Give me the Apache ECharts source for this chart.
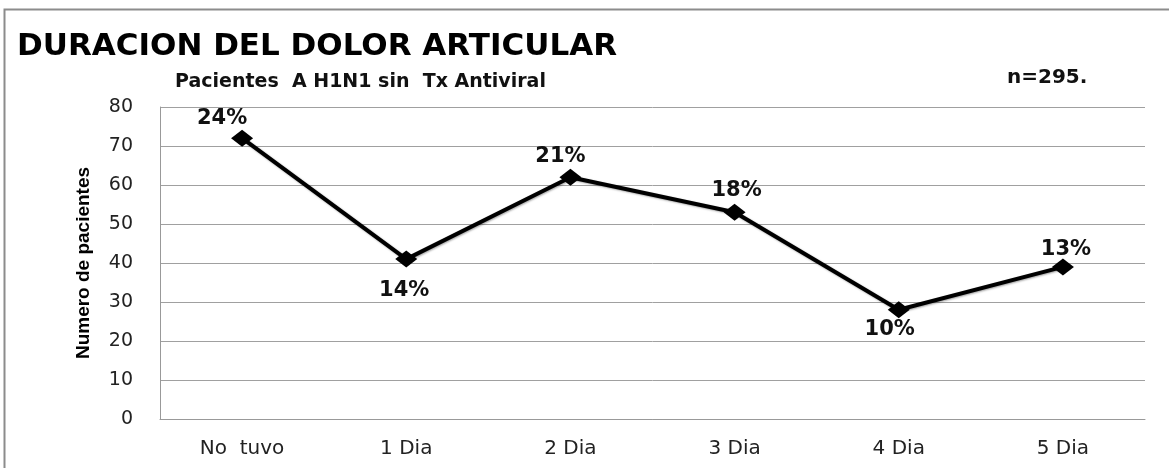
<!DOCTYPE html>
<html>
<head>
<meta charset="utf-8">
<script src="https://cdn.jsdelivr.net/npm/echarts@6/dist/echarts.min.js"></script>
<style>
  html, body { margin: 0; padding: 0; background: #fff; }
  #main { width: 1169px; height: 468px; }
</style>
</head>
<body>
<div id="main"></div>
<script>
// categories and values
var categories = ["No  tuvo", "1 Dia", "2 Dia", "3 Dia", "4 Dia", "5 Dia"];
var pacientes = [72, 41, 62, 53, 28, 39];
var porcentajes = ["24%", "14%", "21%", "18%", "10%", "13%"];
var yTicks = [0, 10, 20, 30, 40, 50, 60, 70, 80];

// where each percentage sits around its point (as in the original)
var labelShift = [[-20, -20], [-2, 31], [-10, -21], [2, -22], [-9, 20], [3, -17]];

var dejavu = "'DejaVu Sans', Verdana, sans-serif";

var myChart = echarts.init(document.getElementById("main"));

var seriesData = pacientes.map(function (v, i) {
  return {
    value: v,
    label: { position: "inside", offset: labelShift[i] }
  };
});

var option = {
  backgroundColor: "#fff",
  animation: false,
  graphic: [
    {
      type: "rect",
      shape: { x: 4.5, y: 9.5, width: 1200, height: 500 },
      style: { fill: "none", stroke: "#8c8c8c", lineWidth: 2 },
      silent: true
    },
    {
      type: "text",
      x: 17,
      y: 47,
      style: {
        text: "DURACION DEL DOLOR ARTICULAR",
        font: "bold 31px " + dejavu,
        fill: "#000",
        verticalAlign: "middle"
      }
    },
    {
      type: "text",
      x: 175,
      y: 82,
      style: {
        text: "Pacientes  A H1N1 sin  Tx Antiviral",
        font: "bold 19px " + dejavu,
        fill: "#111",
        verticalAlign: "middle"
      }
    },
    {
      type: "text",
      x: 1007,
      y: 78,
      style: {
        text: "n=295.",
        font: "bold 20px " + dejavu,
        fill: "#111",
        verticalAlign: "middle"
      }
    }
  ],
  grid: {
    left: 160,
    right: 24,
    top: 107,
    bottom: 49
  },
  xAxis: {
    type: "category",
    data: categories,
    boundaryGap: true,
    axisLine: { lineStyle: { color: "#999", width: 1 } },
    axisTick: { show: false },
    axisLabel: {
      margin: 20,
      fontFamily: dejavu,
      fontSize: 20,
      color: "#222"
    }
  },
  yAxis: {
    type: "value",
    min: yTicks[0],
    max: yTicks[yTicks.length - 1],
    interval: 10,
    name: "Numero de pacientes",
    nameLocation: "middle",
    nameGap: 67,
    nameTextStyle: {
      fontFamily: "'Liberation Sans', Arial, sans-serif",
      fontWeight: "bold",
      fontSize: 19,
      color: "#000"
    },
    axisLine: { show: true, lineStyle: { color: "#999", width: 1 } },
    axisTick: { show: false },
    splitLine: { lineStyle: { color: "#a0a0a0", width: 1 } },
    axisLabel: {
      margin: 27,
      fontFamily: dejavu,
      fontSize: 19,
      color: "#222"
    }
  },
  series: [
    {
      type: "line",
      data: seriesData,
      symbol: "diamond",
      symbolSize: [22, 17],
      lineStyle: {
        color: "#000",
        width: 4,
        shadowColor: "rgba(0,0,0,0.35)",
        shadowBlur: 2,
        shadowOffsetX: 1,
        shadowOffsetY: 1
      },
      itemStyle: { color: "#000" },
      label: {
        show: true,
        fontFamily: dejavu,
        fontWeight: "bold",
        fontSize: 21,
        color: "#111",
        formatter: function (p) {
          return porcentajes[p.dataIndex];
        }
      }
    }
  ]
};

myChart.setOption(option);
</script>
</body>
</html>
